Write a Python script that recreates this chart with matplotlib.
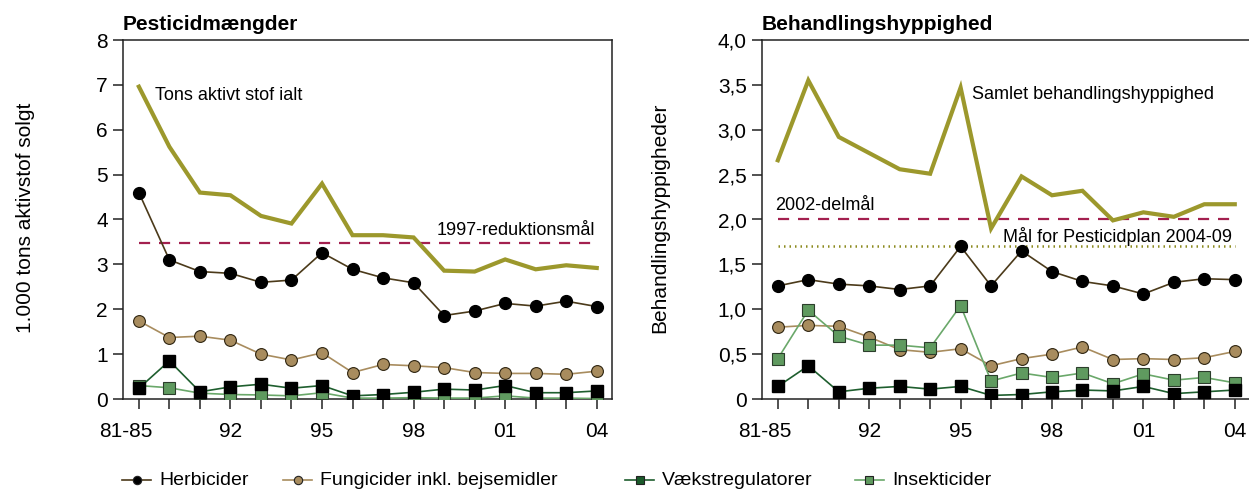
import matplotlib
matplotlib.use("Agg")
import matplotlib.pyplot as plt
from matplotlib.lines import Line2D

plt.rcParams['font.family'] = ['Liberation Sans', 'DejaVu Sans']

# data
years = ['81-85', '90', '91', '92', '93', '94', '95', '96', '97', '98',
         '99', '00', '01', '02', '03', '04']
xtick_idx = [0, 3, 6, 9, 12, 15]
xtick_lab = ['81-85', '92', '95', '98', '01', '04']

# Pesticidmængder (1.000 tons)
tot_m = [6.96, 5.62, 4.60, 4.54, 4.08, 3.91, 4.80, 3.65, 3.65, 3.60,
         2.86, 2.84, 3.11, 2.89, 2.98, 2.92]
herb_m = [4.60, 3.10, 2.84, 2.80, 2.60, 2.65, 3.26, 2.89, 2.70, 2.59,
          1.86, 1.96, 2.13, 2.07, 2.18, 2.06]
fung_m = [1.74, 1.37, 1.40, 1.31, 1.00, 0.87, 1.03, 0.59, 0.77, 0.74,
          0.70, 0.59, 0.57, 0.57, 0.55, 0.62]
vaek_m = [0.24, 0.85, 0.16, 0.27, 0.33, 0.24, 0.30, 0.07, 0.10, 0.15,
          0.22, 0.20, 0.30, 0.14, 0.14, 0.18]
ins_m = [0.30, 0.25, 0.13, 0.10, 0.09, 0.07, 0.14, 0.02, 0.02, 0.03,
         0.02, 0.02, 0.07, 0.02, 0.02, 0.01]
goal_1997 = 3.47

# Behandlingshyppighed
tot_b = [2.66, 3.55, 2.92, 2.74, 2.56, 2.51, 3.47, 1.90, 2.48, 2.27,
         2.32, 1.99, 2.08, 2.03, 2.17, 2.17]
herb_b = [1.26, 1.33, 1.28, 1.26, 1.22, 1.26, 1.70, 1.26, 1.65, 1.42,
          1.31, 1.26, 1.17, 1.30, 1.34, 1.33]
fung_b = [0.80, 0.82, 0.81, 0.69, 0.55, 0.52, 0.56, 0.37, 0.45, 0.50,
          0.58, 0.44, 0.45, 0.44, 0.46, 0.53]
vaek_b = [0.14, 0.37, 0.08, 0.12, 0.14, 0.11, 0.14, 0.04, 0.05, 0.08,
          0.10, 0.09, 0.14, 0.06, 0.08, 0.10]
ins_b = [0.45, 0.99, 0.70, 0.60, 0.60, 0.57, 1.04, 0.20, 0.29, 0.24,
         0.29, 0.17, 0.28, 0.21, 0.24, 0.18]
goal_2002 = 2.0
goal_0409 = 1.7

OLIVE = '#9c982c'
RED = '#a3204f'
DOT = '#8c8a1e'
HERB_LINE = '#4b3a1a'
FUNG = '#a88c5e'
VAEK_LINE = '#1e5e2e'
INS = '#5f9a5f'
SPINE = '#222222'

fig = plt.figure(figsize=(12.49, 4.9), dpi=100)
axL = fig.add_axes([123 / 1249, 91 / 490, 489 / 1249, 359 / 490])
axR = fig.add_axes([762 / 1249, 91 / 490, 488 / 1249, 359 / 490])

x = list(range(len(years)))


def draw_series(ax, tot, herb, fung, vaek, ins):
    ax.plot(x, fung, color=FUNG, lw=1.2, marker='o', ms=8.5,
            mfc=FUNG, mec='#2e2410', mew=0.8, zorder=3)
    ax.plot(x, ins, color='#6aa86a', lw=1.2, marker='s', ms=8,
            mfc=INS, mec='#2c3e2c', mew=0.8, zorder=4)
    ax.plot(x, vaek, color=VAEK_LINE, lw=1.2, marker='s', ms=8,
            mfc='black', mec='black', zorder=5)
    ax.plot(x, herb, color=HERB_LINE, lw=1.2, marker='o', ms=8.5,
            mfc='black', mec='black', zorder=6)
    ax.plot(x, tot, color=OLIVE, lw=3, solid_joinstyle='miter', zorder=7)


def style_axes(ax):
    ax.set_xlim(-0.52, 15.5)
    ax.set_xticks(range(len(years)))
    ax.set_xticklabels(['' for _ in years])
    for i, lab in zip(xtick_idx, xtick_lab):
        xi = i - 0.43 if lab == '81-85' else i
        ax.text(xi, -0.065, lab, transform=ax.get_xaxis_transform(),
                ha='center', va='top', fontsize=15)
    ax.tick_params(axis='x', length=7, width=1.1, color=SPINE, pad=0)
    ax.tick_params(axis='y', length=7, width=1.1, color=SPINE,
                   labelsize=15, pad=4)
    for s in ax.spines.values():
        s.set_color(SPINE)
        s.set_linewidth(1.1)


# left panel
draw_series(axL, tot_m, herb_m, fung_m, vaek_m, ins_m)
axL.plot([0, 15], [goal_1997, goal_1997], color=RED, lw=1.6,
         ls=(0, (5, 4)), zorder=2)
axL.set_ylim(0, 8)
axL.set_yticks(range(9))
style_axes(axL)
axL.text(0.52, 6.77, 'Tons aktivt stof ialt', fontsize=13, va='center')
axL.text(14.95, 3.76, '1997-reduktionsmål', fontsize=13, va='center', ha='right')
axL.set_title('Pesticidmængder', loc='left', fontsize=15, fontweight='bold',
              pad=7)
fig.text(26 / 1249, 1 - 218 / 490, '1.000 tons aktivstof solgt', rotation=90,
         fontsize=15, ha='center', va='center')

# right panel
draw_series(axR, tot_b, herb_b, fung_b, vaek_b, ins_b)
axR.plot([0, 15], [goal_2002, goal_2002], color=RED, lw=1.6,
         ls=(0, (5, 4)), zorder=2)
axR.plot([0, 15], [goal_0409, goal_0409], color=DOT, lw=1.8,
         ls=(0, (0.6, 1.6)), zorder=2)
axR.set_ylim(0, 4)
yt = [0, 0.5, 1.0, 1.5, 2.0, 2.5, 3.0, 3.5, 4.0]
axR.set_yticks(yt)
axR.set_yticklabels(['0'] + [f'{v:.1f}'.replace('.', ',') for v in yt[1:]])
style_axes(axR)
axR.spines['right'].set_visible(False)
axR.text(6.38, 3.39, 'Samlet behandlingshyppighed', fontsize=13, va='center')
axR.text(-0.08, 2.16, '2002-delmål', fontsize=13, va='center')
axR.text(14.9, 1.81, 'Mål for Pesticidplan 2004-09', fontsize=13,
         va='center', ha='right')
axR.set_title('Behandlingshyppighed', loc='left', fontsize=15,
              fontweight='bold', pad=7)
fig.text(660 / 1249, 1 - 218 / 490, 'Behandlingshyppigheder', rotation=90,
         fontsize=15, ha='center', va='center')

# legend, placed by hand
leg_items = [
    ('Herbicider', HERB_LINE, 'o', 'black', 122),
    ('Fungicider inkl. bejsemidler', FUNG, 'o', FUNG, 283),
    ('Vækstregulatorer', VAEK_LINE, 's', '#1a5a2a', 625),
    ('Insekticider', '#6aa86a', 's', INS, 855),
]
ly = 1 - 480 / 490
for lab, lc, mk, fc, px in leg_items:
    x0 = px / 1249
    x1 = (px + 29) / 1249
    fig.add_artist(Line2D([x0, x1], [ly, ly], color=lc, lw=1.2,
                          transform=fig.transFigure))
    fig.add_artist(Line2D([(x0 + x1) / 2], [ly], marker=mk, ms=6,
                          mfc=fc, mec='#222222', mew=0.8, ls='none',
                          transform=fig.transFigure))
    fig.text((px + 37) / 1249, ly, lab, fontsize=14, va='center', ha='left')

fig.savefig('out.png', dpi=100)
